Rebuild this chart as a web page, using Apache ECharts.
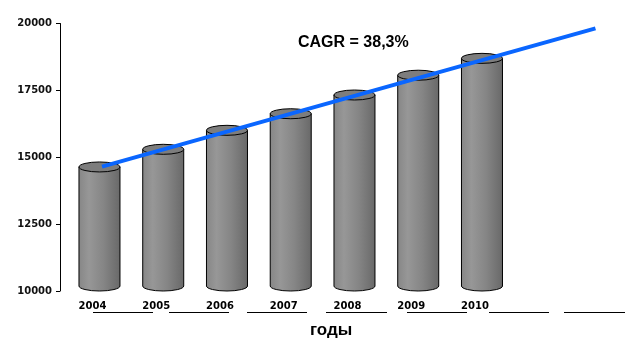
<!DOCTYPE html>
<html>
<head>
<meta charset="utf-8">
<script src="https://cdn.jsdelivr.net/npm/echarts@6/dist/echarts.min.js"></script>
<style>html,body{margin:0;padding:0;background:#fff}#c{width:625px;height:348px}</style>
</head>
<body>
<div id="c"></div>
<script>
// ---- data ----
var years = ['2004', '2005', '2006', '2007', '2008', '2009', '2010', '', ''];
var values = [14450, 15110, 15820, 16440, 17140, 17880, 18510];
var trendYears = [2004.04, 2011.78];
var trendValues = [14650, 19820];
var yTicks = [10000, 12500, 15000, 17500, 20000];
var cagrText = 'CAGR = 38,3%';
var axisTitle = 'годы';

var Y_MIN = yTicks[0], Y_MAX = yTicks[yTicks.length - 1];
var chart = echarts.init(document.getElementById('c'), null, {renderer: 'canvas'});

function cylinder(params, api) {
  var top = api.coord([api.value(0), api.value(1)]);
  var base = api.coord([api.value(0), Y_MIN]);
  var w = 41, rx = w / 2, ry = 5, dy = -5;
  var cx = top[0];
  var L = cx - rx, R = cx + rx;
  var ty = top[1] + dy, by = base[1] + dy;
  var grad = new echarts.graphic.LinearGradient(0, 0, 1, 0, [
    {offset: 0, color: '#868686'},
    {offset: 0.25, color: '#979797'},
    {offset: 0.6, color: '#858585'},
    {offset: 1, color: '#686868'}
  ]);
  var body = 'M' + L + ' ' + ty + ' L' + L + ' ' + by +
    ' A' + rx + ' ' + ry + ' 0 0 0 ' + R + ' ' + by +
    ' L' + R + ' ' + ty + ' Z';
  var cap = 'M' + L + ' ' + ty + ' A' + rx + ' ' + ry + ' 0 1 0 ' + R + ' ' + ty +
    ' A' + rx + ' ' + ry + ' 0 1 0 ' + L + ' ' + ty + ' Z';
  return {
    type: 'group',
    children: [
      {type: 'path', shape: {pathData: body}, style: {fill: grad, stroke: '#000', lineWidth: 1}},
      {type: 'path', shape: {pathData: cap}, style: {fill: '#7d7d7d', stroke: '#000', lineWidth: 1}}
    ]
  };
}

var underlineY = 312.5;
var underlineSegs = [[93, 153], [169, 229], [247, 307], [326, 387], [407, 467], [489, 549], [564, 625]];

chart.setOption({
  animation: false,
  backgroundColor: '#fff',
  grid: {left: 67.6, top: 23.5, width: 573.75, height: 267.5, containLabel: false, outerBoundsMode: 'none'},
  title: [
    {text: cagrText, left: 298, top: 35, padding: 0,
     textStyle: {fontFamily: 'Liberation Sans', fontWeight: 'bold', fontSize: 16, color: '#000'}},
    {text: axisTitle, left: 310, top: 322, padding: 0,
     textStyle: {fontFamily: 'Liberation Sans', fontWeight: 'bold', fontSize: 17, color: '#000'}}
  ],
  xAxis: [
    {type: 'category', data: years, boundaryGap: true,
     axisLine: {show: false}, axisTick: {show: false}, splitLine: {show: false},
     axisLabel: {interval: 0, margin: 10, padding: [0, 14, 0, 0], color: '#000',
       fontFamily: 'DejaVu Sans', fontWeight: 'bold', fontSize: 10}},
    {type: 'value', min: 2003.5, max: 2012.5, show: false}
  ],
  yAxis: {
    type: 'value', min: Y_MIN, max: Y_MAX, interval: 2500, offset: 7.6,
    axisLine: {show: true, lineStyle: {color: '#000', width: 1}},
    axisTick: {show: true, inside: false, length: 4, lineStyle: {color: '#000'}},
    splitLine: {show: false},
    axisLabel: {margin: 8, color: '#111', fontFamily: 'DejaVu Sans', fontWeight: 'bold', fontSize: 10,
      formatter: function (v) { return String(v); }}
  },
  graphic: underlineSegs.map(function (s) {
    return {type: 'line', shape: {x1: s[0], y1: underlineY, x2: s[1], y2: underlineY},
            style: {stroke: '#000', lineWidth: 1}, silent: true};
  }),
  series: [
    {type: 'custom', xAxisIndex: 0, renderItem: cylinder, z: 2,
     data: values.map(function (v, i) { return [i, v]; })},
    {type: 'line', xAxisIndex: 1, z: 5, symbol: 'none', clip: false,
     lineStyle: {color: '#0a66ff', width: 4, cap: 'butt'},
     data: trendYears.map(function (x, i) { return [x, trendValues[i]]; })}
  ]
});
</script>
</body>
</html>
